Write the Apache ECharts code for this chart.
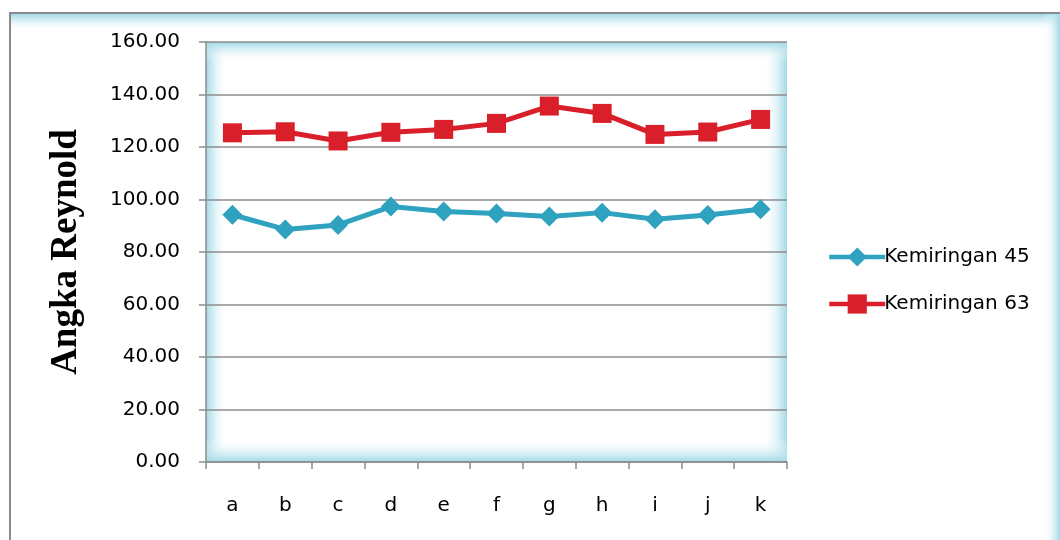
<!DOCTYPE html>
<html>
<head>
<meta charset="utf-8">
<script src="https://cdn.jsdelivr.net/npm/echarts@6/dist/echarts.min.js"></script>
<style>
  html, body { margin: 0; padding: 0; background: #fff; }
  #chart { width: 1060px; height: 540px; }
</style>
</head>
<body>
<div id="chart"></div>
<script>
const categories = ['a', 'b', 'c', 'd', 'e', 'f', 'g', 'h', 'i', 'j', 'k'];
const kemiringan45 = [94.2, 88.6, 90.3, 97.3, 95.4, 94.7, 93.5, 95.0, 92.5, 94.1, 96.3];
const kemiringan63 = [125.4, 125.8, 122.3, 125.6, 126.7, 129.0, 135.6, 132.8, 124.8, 125.7, 130.5];
const yTicks = { min: 0, max: 160, interval: 20 };

const GRID = { left: 206, top: 42, right: 273, bottom: 78 };
const plotW = 1060 - GRID.left - GRID.right;
const plotH = 540 - GRID.top - GRID.bottom;
const glow = '#9fd9e6';
const labelFont = 'DejaVu Sans';

function strip(x, y, w, h, x0, y0, x1, y1) {
  return {
    type: 'rect', z: -10, silent: true,
    shape: { x, y, width: w, height: h },
    style: {
      fill: new echarts.graphic.LinearGradient(x0, y0, x1, y1, [
        { offset: 0, color: glow },
        { offset: 1, color: 'rgba(255,255,255,0)' }
      ])
    }
  };
}

const chart = echarts.init(document.getElementById('chart'));

chart.setOption({
  animation: false,
  backgroundColor: '#fff',
  graphic: [
    // outer frame glow (top, right)
    strip(11, 14, 1049, 18, 0, 0, 0, 1),
    strip(1044, 14, 16, 526, 1, 0, 0, 0),
    // plot area inner glow
    strip(GRID.left, GRID.top, 22, plotH, 0, 0, 1, 0),
    strip(GRID.left + plotW - 24, GRID.top, 24, plotH, 1, 0, 0, 0),
    strip(GRID.left, GRID.top, plotW, 20, 0, 0, 0, 1),
    strip(GRID.left, GRID.top + plotH - 24, plotW, 24, 0, 1, 0, 0),
    // outer frame border
    {
      type: 'polyline', z: 10, silent: true,
      shape: { points: [[10, 540], [10, 13], [1060, 13]] },
      style: { stroke: '#8a8a8a', lineWidth: 2, fill: null }
    }
  ],
  grid: { left: GRID.left, top: GRID.top, right: GRID.right, bottom: GRID.bottom },
  legend: {
    orient: 'vertical',
    left: 822,
    top: 242,
    itemGap: 27,
    itemWidth: 56,
    itemHeight: 24,
    lineStyle: { width: 4.5 },
    textStyle: { fontFamily: labelFont, fontSize: 20, color: '#000', padding: [0, 0, 0, -6] },
    data: ['Kemiringan 45', 'Kemiringan 63']
  },
  xAxis: {
    type: 'category',
    data: categories,
    boundaryGap: true,
    axisLine: { lineStyle: { color: '#8c8c8c', width: 1.5 } },
    axisTick: { show: true, length: 7, lineStyle: { color: '#8c8c8c', width: 1.5 } },
    axisLabel: { color: '#000', fontFamily: labelFont, fontSize: 20, margin: 34 }
  },
  yAxis: {
    type: 'value',
    min: yTicks.min,
    max: yTicks.max,
    interval: yTicks.interval,
    name: 'Angka Reynold',
    nameLocation: 'middle',
    nameGap: 121,
    nameTextStyle: { fontFamily: 'Liberation Serif', fontWeight: 'bold', fontSize: 37, color: '#000' },
    axisLine: { show: true, lineStyle: { color: '#8c8c8c', width: 1.5 } },
    axisTick: { show: true, length: 7, lineStyle: { color: '#8c8c8c', width: 1.5 } },
    splitLine: { lineStyle: { color: '#8c8c8c', width: 1.5 } },
    axisLabel: {
      color: '#000', fontFamily: labelFont, fontSize: 20, margin: 26,
      formatter: (v) => v.toFixed(2)
    }
  },
  series: [
    {
      name: 'Kemiringan 45',
      type: 'line',
      data: kemiringan45,
      symbol: 'diamond',
      symbolSize: 20,
      lineStyle: { color: '#2ea2bf', width: 5 },
      itemStyle: { color: '#2ea2bf' }
    },
    {
      name: 'Kemiringan 63',
      type: 'line',
      data: kemiringan63,
      symbol: 'rect',
      symbolSize: 19,
      lineStyle: { color: '#d91f29', width: 5 },
      itemStyle: { color: '#d91f29' }
    }
  ]
});
</script>
</body>
</html>
